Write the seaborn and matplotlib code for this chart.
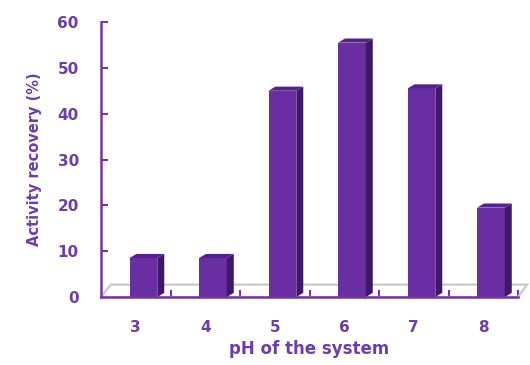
import matplotlib
matplotlib.use("Agg")
import matplotlib.pyplot as plt
from matplotlib.patches import Polygon
import seaborn as sns
import pandas as pd

# pH of the system and the enzyme activity recovered at each value
ph_values = ["3", "4", "5", "6", "7", "8"]
activity_recovery = [8.5, 8.5, 45, 55.5, 45.5, 19.5]
y_ticks = [0, 10, 20, 30, 40, 50, 60]

df = pd.DataFrame({"pH": ph_values, "recovery": activity_recovery})

sns.set_theme(style="white")
plt.rcParams["font.family"] = ["DejaVu Sans"]

purple = "#6A2EA3"
side_col = "#3F1868"
top_col = "#55228C"
text_col = "#6E3DAA"
axis_col = "#7433A8"

fig = plt.figure(figsize=(5.3, 3.65), dpi=100)
ax = fig.add_axes([0.1906, 0.1863, 0.7868, 0.7534])

sns.barplot(data=df, x="pH", y="recovery", color=purple, saturation=1,
            width=0.4, edgecolor="none", linewidth=0, ax=ax, zorder=3)

ax.set_xlim(-0.5, len(ph_values) - 0.5)
ax.set_ylim(0, 60)

# floor of the 3-D box, drawn behind the bars
depth_y = 2.7
floor = Polygon([(-0.5, 0), (-0.36, depth_y), (len(ph_values) - 0.5 + 0.13, depth_y),
                 (len(ph_values) - 0.5, 0)], closed=True, fill=False,
                edgecolor="#C9C9C9", linewidth=1.6, clip_on=False, zorder=1)
ax.add_patch(floor)

# extrude each bar with a shaded side and top face
shift = 0.11
ddx, ddy = 0.10, 0.9
for p in list(ax.patches):
    if p is floor:
        continue
    p.set_x(p.get_x() + shift)
    x0, w, h = p.get_x(), p.get_width(), p.get_height()
    side = Polygon([(x0 + w, 0), (x0 + w + ddx, ddy), (x0 + w + ddx, h + ddy), (x0 + w, h)],
                   closed=True, facecolor=side_col, edgecolor="none", zorder=3)
    top = Polygon([(x0, h), (x0 + ddx, h + ddy), (x0 + w + ddx, h + ddy), (x0 + w, h)],
                  closed=True, facecolor=top_col, edgecolor="none", zorder=3, clip_on=False)
    ax.add_patch(side)
    ax.add_patch(top)

sns.despine(ax=ax)
for s in ("left", "bottom"):
    ax.spines[s].set_color(axis_col)
    ax.spines[s].set_linewidth(1.8)
    ax.spines[s].set_zorder(4)

ax.set_yticks(y_ticks)
ax.set_yticklabels([str(v) for v in y_ticks])
ax.set_xticks(range(len(ph_values)))
ax.set_xticklabels(ph_values)
ax.set_xticks([i + 0.5 for i in range(len(ph_values))], minor=True)

ax.tick_params(axis="y", direction="in", length=5, width=1.5, color=axis_col,
               labelcolor=text_col, labelsize=11, pad=16, left=True)
ax.tick_params(axis="x", which="major", length=0, labelcolor=text_col,
               labelsize=11, pad=16.5)
ax.tick_params(axis="x", which="minor", direction="in", length=5, width=1.5,
               color=axis_col, bottom=True)
for lab in ax.get_xticklabels() + ax.get_yticklabels():
    lab.set_fontweight("bold")

ax.set_xlabel("pH of the system", fontsize=12, fontweight="bold",
              color=text_col, labelpad=4)
ax.set_ylabel("Activity recovery (%)", fontsize=10.5, fontweight="bold",
              color=text_col, labelpad=11)
ax.grid(False)

fig.savefig("out.png", dpi=100, facecolor="white")
